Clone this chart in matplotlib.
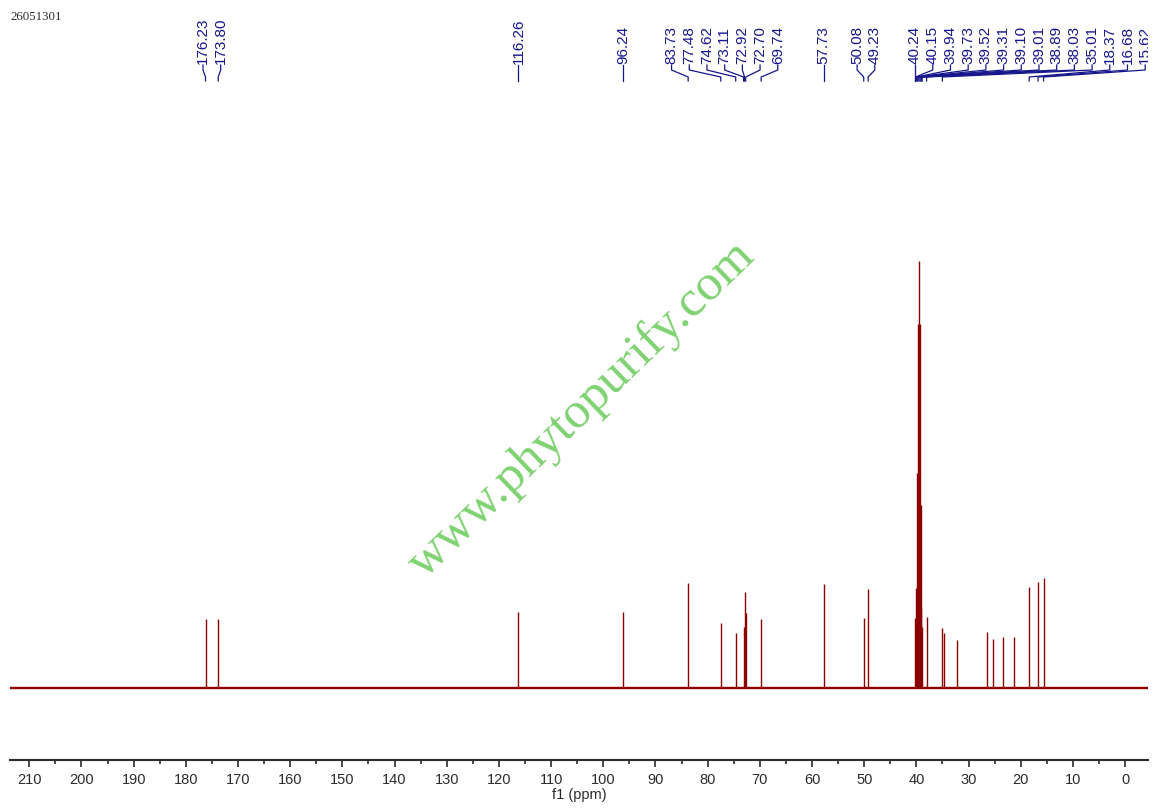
import numpy as np
import matplotlib
matplotlib.use("Agg")
import matplotlib.pyplot as plt
from matplotlib.transforms import blended_transform_factory, Bbox, TransformedBbox

# peak list (ppm, height above baseline)
peak_ppm = [176.23, 173.80, 116.26, 96.24, 83.73, 77.48, 74.62, 73.11, 72.92, 72.70,
            69.74, 57.73, 50.08, 49.23, 40.24, 40.15, 39.94, 39.73, 39.52, 39.31,
            39.10, 39.01, 38.89, 38.03, 35.01, 34.62, 32.2, 26.4, 25.4, 23.4, 21.3,
            18.37, 16.68, 15.62]
peak_height = [69, 69, 76, 76, 105, 65, 55, 61, 96, 75,
               69, 104, 70, 99, 70, 100, 215, 364, 427, 364,
               183, 80, 61, 71, 60, 55, 48, 56, 49, 51, 51,
               101, 106, 110]

# labelled peaks, in the groups the labels are stacked in
label_groups = [
    [176.23, 173.80],
    [116.26],
    [96.24],
    [83.73, 77.48, 74.62, 73.11, 72.92, 72.70, 69.74],
    [57.73],
    [50.08, 49.23],
    [40.24, 40.15, 39.94, 39.73, 39.52, 39.31, 39.10, 39.01, 38.89, 38.03,
     35.01, 18.37, 16.68, 15.62],
]

W, H = 1160, 809
fig = plt.figure(figsize=(W / 100, H / 100), dpi=100)
ax = fig.add_axes([10 / W, 1 - 760 / H, 1138 / W, 660 / H])

red = "#8b0000"
blue = "#16168c"
grey = "#2b2b2b"

ax.axhline(0, color=red, lw=1.7)
ax.vlines(peak_ppm, 0, peak_height, color=red, lw=1.0)

ax.set_xlim(213.7, -4.4)
ax.set_ylim(-72, 588)
for s in ["left", "right", "top"]:
    ax.spines[s].set_visible(False)
ax.spines["bottom"].set_linewidth(1.5)
ax.spines["bottom"].set_color(grey)
ax.set_yticks([])
ax.set_xticks(np.arange(0, 211, 10))
ax.set_xticks(np.arange(5, 211, 10), minor=True)
ax.tick_params(axis="x", which="major", length=5, width=1.2, color=grey,
               labelsize=10.5, labelcolor=grey, pad=4)
ax.tick_params(axis="x", which="minor", length=3, width=1.2, color=grey)
for t in ax.get_xticklabels():
    t.set_fontfamily("Liberation Sans")
ax.set_xlabel("f1 (ppm)", fontsize=10.5, color=grey, family="Liberation Sans", labelpad=1)

# peak labels along the top
ppm_per_px = (213.7 + 4.4) / 1138
step = 17.7 * ppm_per_px
tr = blended_transform_factory(ax.transData, fig.transFigure)
clip = TransformedBbox(Bbox([[0, 0], [1148 / W, 1]]), fig.transFigure)


def fy(py):
    return 1 - py / H


for gi, grp in enumerate(label_groups):
    n = len(grp)
    if gi == len(label_groups) - 1:
        start = grp[0]
    else:
        start = (grp[0] + grp[-1]) / 2 + step * (n - 1) / 2
    for k, p in enumerate(grp):
        lx = start - k * step
        t = ax.text(lx, fy(64), f"{p:.2f}", transform=tr, rotation=90,
                    ha="center", va="bottom", fontsize=11, color=blue,
                    family="Liberation Sans")
        t.set_clip_box(clip)
        t.set_clip_on(True)
        ax.plot([lx, lx, p, p], [fy(65), fy(70), fy(77), fy(81)],
                transform=tr, color=blue, lw=0.9, clip_on=False)

fig.text(10 / W, fy(17), "26051301", fontsize=9.3, color=grey,
         family="Liberation Serif", ha="left", va="center")

fig.text(582 / W, fy(410), "www.phytopurify.com", fontsize=37, color="#7fd271",
         family="Liberation Serif", rotation=44, ha="center", va="center",
         rotation_mode="anchor")

fig.savefig("out.png", dpi=100)
